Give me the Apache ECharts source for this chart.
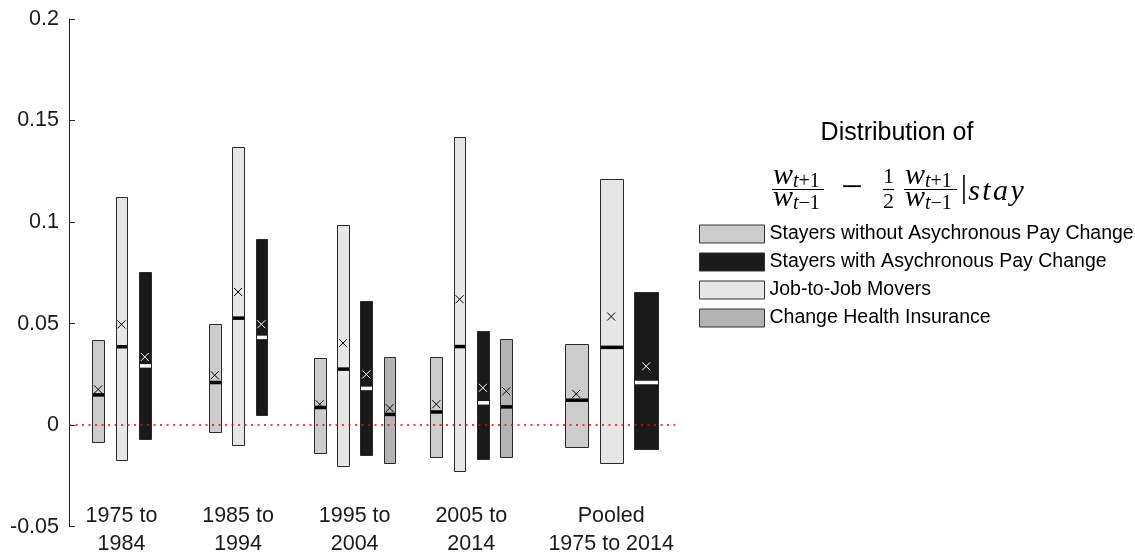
<!DOCTYPE html>
<html>
<head>
<meta charset="utf-8">
<script src="https://cdn.jsdelivr.net/npm/echarts@6/dist/echarts.min.js"></script>
<style>
html,body{margin:0;padding:0;background:#fff;}
#chart{width:1135px;height:552px;}
</style>
</head>
<body>
<div id="chart"></div>
<script>
// ---------------- DATA ----------------
const groups = ['1975 to\n1984', '1985 to\n1994', '1995 to\n2004', '2005 to\n2014', 'Pooled\n1975 to 2014'];
const seriesNames = [
  'Stayers without Asychronous Pay Change',
  'Stayers with Asychronous Pay Change',
  'Job-to-Job Movers',
  'Change Health Insurance'
];
const yTicks = [-0.05, 0, 0.05, 0.1, 0.15, 0.2];

// Stayers without asynchronous pay change
const stayNoLow  = [-0.0085, -0.0036, -0.0136, -0.0159, -0.0107];
const stayNoHigh = [ 0.0419,  0.0496,  0.0333,  0.0335,  0.0399];
const stayNoMed  = [ 0.0149,  0.0210,  0.0087,  0.0065,  0.0123];
const stayNoMean = [ 0.0176,  0.0246,  0.0103,  0.0103,  0.0154];

// Stayers with asynchronous pay change
const stayAsyLow  = [-0.0066,  0.0049, -0.0148, -0.0166, -0.0118];
const stayAsyHigh = [ 0.0753,  0.0917,  0.0612,  0.0463,  0.0655];
const stayAsyMed  = [ 0.0292,  0.0432,  0.0181,  0.0110,  0.0210];
const stayAsyMean = [ 0.0336,  0.0497,  0.0250,  0.0184,  0.0290];

// Job-to-job movers
const moverLow  = [-0.0172, -0.0097, -0.0200, -0.0228, -0.0186];
const moverHigh = [ 0.1124,  0.1370,  0.0988,  0.1420,  0.1211];
const moverMed  = [ 0.0386,  0.0527,  0.0276,  0.0387,  0.0383];
const moverMean = [ 0.0496,  0.0656,  0.0404,  0.0620,  0.0535];

// Change health insurance
const healthLow  = [null, null, -0.0187, -0.0156, null];
const healthHigh = [null, null,  0.0336,  0.0425, null];
const healthMed  = [null, null,  0.0053,  0.0090, null];
const healthMean = [null, null,  0.0084,  0.0167, null];

// ---------------- LAYOUT / STYLE ----------------
const FONT = '"Liberation Sans", Arial, Helvetica, sans-serif';
const SERIF = '"Liberation Serif", "Times New Roman", serif';
const TXT = '#1a1a1a';
const ZERO_RED = '#ff0000';

const seriesDefs = [
  {name: seriesNames[0], low: stayNoLow,  high: stayNoHigh,  med: stayNoMed,  mean: stayNoMean,  fill: '#cccccc', mark: '#000000', order: 0},
  {name: seriesNames[1], low: stayAsyLow, high: stayAsyHigh, med: stayAsyMed, mean: stayAsyMean, fill: '#1a1a1a', mark: '#ffffff', order: 2},
  {name: seriesNames[2], low: moverLow,   high: moverHigh,   med: moverMed,   mean: moverMean,   fill: '#e6e6e6', mark: '#000000', order: 1},
  {name: seriesNames[3], low: healthLow,  high: healthHigh,  med: healthMed,  mean: healthMean,  fill: '#b3b3b3', mark: '#000000', order: 3}
];
// group centres along the x axis (the pooled group sits a little further out)
const lastG = groups.length - 1;
const groupX = groups.map((g, i) => i + 1 + (i === lastG ? 0.2 : 0));
const X_MIN = 0.55, X_MAX = 5.75;

function slotInfo(def, g) {
  const present = seriesDefs.filter(d => d.high[g] != null).sort((a, b) => a.order - b.order);
  const n = present.length;
  const k = present.indexOf(def);
  const pooled = g === lastG;
  const spacing = pooled ? 0.3 : 0.2;
  const width = pooled ? 0.2 : 0.1;
  return {cx: groupX[g] + (k - (n - 1) / 2) * spacing, w: width};
}

function makeSeries(def) {
  const data = [];
  groups.forEach((_, g) => {
    if (def.high[g] != null) data.push([g, def.low[g], def.high[g], def.med[g], def.mean[g]]);
  });
  return {
    name: def.name,
    type: 'custom',
    z: 2,
    itemStyle: {color: def.fill, borderColor: '#333', borderWidth: 1},
    data: data,
    encode: {x: 0, y: [1, 2]},
    renderItem: function (params, api) {
      const g = api.value(0);
      const s = slotInfo(def, g);
      const tl = api.coord([s.cx - s.w / 2, api.value(2)]);
      const br = api.coord([s.cx + s.w / 2, api.value(1)]);
      const md = api.coord([s.cx, api.value(3)]);
      const mn = api.coord([s.cx, api.value(4)]);
      const x0 = Math.round(tl[0]) + 0.5, x1 = Math.round(br[0]) + 0.5;
      const y0 = Math.round(tl[1]) + 0.5, y1 = Math.round(br[1]) + 0.5;
      const r = 4;
      return {
        type: 'group',
        children: [
          {type: 'rect', shape: {x: x0, y: y0, width: x1 - x0, height: y1 - y0},
           style: {fill: def.fill, stroke: '#2a2a2a', lineWidth: 1}},
          {type: 'rect', shape: {x: x0 + 0.5, y: md[1] - 1.75, width: x1 - x0 - 1, height: 3.5},
           style: {fill: def.mark}},
          {type: 'line', shape: {x1: mn[0] - r, y1: mn[1] - r, x2: mn[0] + r, y2: mn[1] + r},
           style: {stroke: def.mark, lineWidth: 1}},
          {type: 'line', shape: {x1: mn[0] - r, y1: mn[1] + r, x2: mn[0] + r, y2: mn[1] - r},
           style: {stroke: def.mark, lineWidth: 1}}
        ]
      };
    }
  };
}

const series = seriesDefs.map(makeSeries);
// zero reference line (drawn on top of the boxes), spanning the whole x range
series.push({
  name: 'zero', type: 'custom', z: 50, zlevel: 1, silent: true,
  itemStyle: {color: ZERO_RED},
  data: [[X_MIN, X_MAX, 0]],
  encode: {x: [0, 1], y: 2},
  renderItem: function (params, api) {
    const a = api.coord([api.value(0), api.value(2)]);
    const b = api.coord([api.value(1), api.value(2)]);
    const y = Math.round(a[1]);
    return {type: 'line', shape: {x1: a[0], y1: y, x2: b[0], y2: y},
      style: {stroke: ZERO_RED, fill: null, lineWidth: 1.6, lineDash: [2, 4.5], opacity: 1}};
  }
});

function fmtTick(v) { return String(parseFloat(v.toFixed(4))); }

// formula pieces
const MI = 'italic 30px ' + SERIF;
const SUBI = 'italic 20px ' + SERIF;
const SUBR = '20px ' + SERIF;
function txt(text, x, y, font, align, rich) {
  return {type: 'text', x: x, y: y, silent: true,
    style: {text: text, font: font, fill: '#000', align: align || 'left', verticalAlign: 'middle', rich: rich}};
}
function bar(x1, x2, y) {
  return {type: 'line', silent: true, shape: {x1: x1, y1: y, x2: x2, y2: y}, style: {stroke: '#000', lineWidth: 1.2}};
}
const subRich = {i: {font: SUBI, fill: '#000'}, r: {font: SUBR, fill: '#000'}};
const stayRich = {a: {font: MI, fill: '#000', padding: [0, 1.2, 0, 1.2]}};

const graphic = [
  txt('Distribution of', 897, 133, '25px ' + FONT, 'center'),
  // first fraction
  txt('w', 773, 176, MI), txt('{i|t}{r|+1}', 793, 182, SUBI, 'left', subRich),
  bar(772, 824, 189.5),
  txt('w', 773, 198, MI), txt('{i|t}{r|−1}', 793, 204, SUBI, 'left', subRich),
  // minus
  txt('−', 852, 189, '38px ' + SERIF, 'center'),
  // one half
  txt('1', 888.5, 177, '22px ' + SERIF, 'center'), bar(883, 894, 189.5), txt('2', 888.5, 202, '22px ' + SERIF, 'center'),
  // second fraction
  txt('w', 905, 176, MI), txt('{i|t}{r|+1}', 925, 182, SUBI, 'left', subRich),
  bar(904, 957, 189.5),
  txt('w', 905, 198, MI), txt('{i|t}{r|−1}', 925, 204, SUBI, 'left', subRich),
  // conditional bar and "stay"
  txt('|', 964, 189, '32px ' + SERIF, 'center'),
  txt('{a|s}{a|t}{a|a}{a|y}', 967, 192, MI, 'left', stayRich)
];

const option = {
  animation: false,
  backgroundColor: '#fff',
  grid: {left: 69, top: 19, width: 606.3, height: 507.7, outerBoundsMode: 'none', containLabel: false},
  legend: {
    orient: 'vertical', left: 699, top: 224, padding: 0,
    itemWidth: 65, itemHeight: 18, itemGap: 8, icon: 'rect',
    selectedMode: false,
    data: seriesNames,
    itemStyle: {borderColor: '#333', borderWidth: 1},
    textStyle: {fontFamily: FONT, fontSize: 19.5, color: '#000', lineHeight: 18}
  },
  xAxis: {
    type: 'value', min: X_MIN, max: X_MAX,
    axisLine: {show: false, onZero: false}, axisTick: {show: false}, splitLine: {show: false},
    axisLabel: {
      customValues: groupX,
      formatter: function (v) {
        for (let i = 0; i < groupX.length; i++) if (Math.abs(groupX[i] - v) < 1e-6) return groups[i];
        return '';
      },
      margin: -25, fontFamily: FONT, fontSize: 21.5, lineHeight: 28, color: TXT
    }
  },
  yAxis: {
    type: 'value', min: yTicks[0], max: yTicks[yTicks.length - 1], interval: 0.05,
    axisLine: {show: true, lineStyle: {color: '#262626', width: 1}},
    axisTick: {show: true, inside: true, length: 6, lineStyle: {color: '#262626'}},
    splitLine: {show: false},
    axisLabel: {formatter: fmtTick, margin: 10, fontFamily: FONT, fontSize: 21.5, color: TXT}
  },
  graphic: graphic,
  series: series
};

const chart = echarts.init(document.getElementById('chart'), null, {renderer: 'canvas'});
chart.setOption(option);
</script>
</body>
</html>
